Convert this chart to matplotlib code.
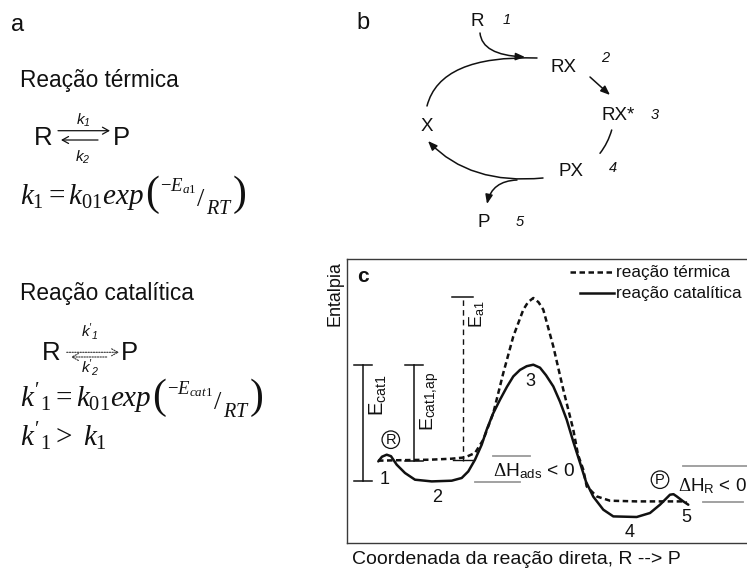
import matplotlib
matplotlib.use("Agg")
import matplotlib.pyplot as plt
from matplotlib.patches import FancyArrowPatch
from matplotlib.path import Path

plt.rcParams['font.family'] = ['Liberation Sans', 'DejaVu Sans']
plt.rcParams['mathtext.fontset'] = 'custom'
plt.rcParams['mathtext.rm'] = 'Liberation Serif'
plt.rcParams['mathtext.it'] = 'Liberation Serif:italic'
plt.rcParams['mathtext.bf'] = 'Liberation Serif:bold'
plt.rcParams['mathtext.sf'] = 'Liberation Sans'
plt.rcParams['mathtext.cal'] = 'Liberation Sans:italic'

# ---- enthalpy profiles (arbitrary units) along the reaction coordinate ----
coord_cat = [31.3, 35, 39.7, 44, 49.7, 58, 68, 84.7, 104.7, 114.7, 121.3, 128,
             134.7, 139.7, 146, 153, 160, 166.3, 173, 179.7, 186.3, 193, 199,
             206.3, 213, 219.7, 226.3, 233, 239, 246.3, 256.3, 266.3, 289.7,
             303, 313, 323, 326.5, 329.7, 336.3, 341.3]
enth_cat = [81.3, 86, 88, 86.5, 78, 69.7, 63, 61.3, 62, 64.7, 71.3, 83,
            98, 113, 129, 143, 156, 166.3, 172.8, 176.5, 178, 175, 167.5,
            156.3, 141, 123, 101, 80, 61, 46, 33, 26.3, 25.7,
            29.7, 38, 48, 48.5, 46.3, 41.3, 38]

coord_therm = [31, 53, 83, 104.7, 118, 128, 136.3, 146.3, 156.3, 166.3, 176.3,
               181, 186.3, 191.5, 196.3, 206.3, 216.3, 226.3, 231, 236.3,
               239.7, 249.7, 263, 289.7, 336.3, 339.7]
enth_therm = [82, 82.5, 83, 84, 85.3, 89.7, 103, 129.7, 169.7, 206.3, 233,
              240.5, 244.7, 240.5, 233, 196.3, 153, 113, 88, 73,
              56.3, 46.3, 42, 41.3, 41.3, 40]

series_names = ['reação térmica', 'reação catalítica']
state_labels = ['1', '2', '3', '4', '5']

# characteristic levels taken from the profiles
R_level = enth_therm[0]
TS_thermal = max(enth_therm)
TS_cat = max(enth_cat)
ads_min = min(enth_cat[:12])

INK = '#111111'
GREY = '#9a9a9a'

fig = plt.figure(figsize=(7.47, 5.68), dpi=100)
renderer = fig.canvas.get_renderer()

# page layer in pixel units (y downward) for panels a and b
ov = fig.add_axes([0, 0, 1, 1])
ov.set_xlim(0, 747)
ov.set_ylim(568, 0)
ov.axis('off')


def chain(x, base, pieces):
    """Write text pieces one after another; each piece is (text, size, dy, family, gap)."""
    for s, size, dy, family, gap in pieces:
        t = ov.text(x + gap, base + dy, s, fontsize=size, ha='left', va='baseline',
                    family=family, color=INK)
        x = t.get_window_extent(renderer).x1


def rate_law(x, base, lhs, energy):
    serif = 'Liberation Serif'
    chain(x, base, [
        (lhs, 21, 0, serif, 0),
        ('(', 30, 1, serif, 1),
        (r'$-E_{%s}$' % energy, 13.5, -13, serif, 1),
        (r'$/$', 19, 2, serif, 0),
        (r'$RT$', 14.5, 10, serif, 0),
        (')', 30, 1, serif, 0),
    ])


# ------------------------------- panel a -------------------------------
ov.text(17.5, 25, 'a', fontsize=17, ha='center', va='center', color=INK)

ov.text(20, 87.3, 'Reação térmica', fontsize=16.3, ha='left', va='baseline', color=INK)
ov.text(43.5, 145, 'R', fontsize=18.5, ha='center', va='baseline', color=INK)
ov.text(121, 145, 'P', fontsize=18.5, ha='center', va='baseline', color=INK)
ov.add_patch(FancyArrowPatch((58, 130.7), (110, 130.7), arrowstyle='->,head_length=0.45,head_width=0.25',
                             mutation_scale=10, lw=0.9, color=INK, shrinkA=0, shrinkB=0))
ov.add_patch(FancyArrowPatch((98, 140), (61, 140), arrowstyle='->,head_length=0.45,head_width=0.25',
                             mutation_scale=10, lw=0.9, color=INK, shrinkA=0, shrinkB=0))
ov.text(83, 120, r'$\mathcal{k_1}$', fontsize=11, ha='center', va='center', color=INK)
ov.text(83, 157, r'$\mathcal{k_2}$', fontsize=11, ha='center', va='center', color=INK)
rate_law(20, 204, r'$k_1 = k_{01}exp$', 'a1')

ov.text(20, 300, 'Reação catalítica', fontsize=16.3, ha='left', va='baseline', color=INK)
ov.text(51, 360, 'R', fontsize=18.5, ha='center', va='baseline', color=INK)
ov.text(129, 360, 'P', fontsize=18.5, ha='center', va='baseline', color=INK)
ov.add_patch(FancyArrowPatch((66.7, 352.3), (119, 352.3), arrowstyle='->,head_length=0.45,head_width=0.25',
                             mutation_scale=10, lw=0.8, color='#333333', ls=(0, (1.2, 1.2)),
                             shrinkA=0, shrinkB=0))
ov.add_patch(FancyArrowPatch((106.7, 357), (71, 357), arrowstyle='->,head_length=0.45,head_width=0.25',
                             mutation_scale=10, lw=0.8, color='#333333', ls=(0, (1.2, 1.2)),
                             shrinkA=0, shrinkB=0))
ov.text(90, 331, r"$\mathcal{{k'}_1}$", fontsize=11, ha='center', va='center', color=INK)
ov.text(90, 368, r"$\mathcal{{k'}_2}$", fontsize=11, ha='center', va='center', color=INK)
rate_law(20, 407, r"${k'}_1 = k_{01}exp$", 'cat1')
ov.text(20, 446, r"${k'}_1 >\ k_1$", fontsize=21, ha='left', va='baseline', color=INK)

# ------------------------------- panel b -------------------------------
ov.text(363, 23, 'b', fontsize=17, ha='center', va='center', color=INK)

species = [('R', 477.5, 21.7), ('RX', 563, 67), ('PX', 571, 171), ('X', 426.7, 126.7), ('P', 484, 222.5)]
for name, x, y in species:
    ov.text(x, y, name, fontsize=13.5, ha='center', va='center', color=INK)
ov.text(601.7, 115, 'RX*', fontsize=13.5, ha='left', va='center', color=INK)

steps = [('1', 506.7, 20), ('2', 605, 58.3), ('3', 655, 115), ('4', 613.3, 168.3), ('5', 520, 221.7)]
for lab, x, y in steps:
    ov.text(x, y, lab, fontsize=10.5, style='italic', ha='center', va='center', color=INK)


def curve(p0, c, p1, head=True):
    path = Path([p0, c, p1], [Path.MOVETO, Path.CURVE3, Path.CURVE3])
    style = '-|>,head_length=5.5,head_width=2.2' if head else '-'
    ov.add_patch(FancyArrowPatch(path=path, arrowstyle=style, mutation_scale=1,
                                 lw=1.1, color=INK, shrinkA=0, shrinkB=0))


curve((427, 106), (440, 55), (537, 58), head=False)      # X -> RX
curve((480, 33), (482, 55), (525, 57))                    # R adsorbs
curve((543, 178), (470, 185), (428, 141))                 # PX -> X
curve((517, 180), (492, 181), (487, 204))                 # P released
curve((611.7, 130), (608, 143), (600, 153.3), head=False)  # RX* -> PX
ov.add_patch(FancyArrowPatch((590, 77), (610, 95), arrowstyle='-|>,head_length=5.5,head_width=2.2',
                             mutation_scale=1, lw=1.1, color=INK, shrinkA=0, shrinkB=0))

# ------------------------------- panel c -------------------------------
axc = fig.add_axes([347 / 747, (568 - 542.7) / 568, 420 / 747, 283.4 / 568])
axc.set_xlim(0, 420)
axc.set_ylim(0, 283.4)
axc.set_xticks([])
axc.set_yticks([])
for s in ('left', 'top', 'bottom'):
    axc.spines[s].set_color('#3a3a3a')
    axc.spines[s].set_linewidth(1.0)
axc.spines['right'].set_visible(False)
axc.patch.set_alpha(0)

axc.plot(coord_therm, enth_therm, color=INK, lw=1.8, ls=(0, (2.2, 1.4)), solid_joinstyle='round')
axc.plot(coord_cat, enth_cat, color=INK, lw=1.8, solid_joinstyle='round', solid_capstyle='round')

axc.text(16, 266, 'c', fontsize=15, fontweight='bold', ha='center', va='center', color=INK)

# legend
axc.plot([223, 267], [270.3, 270.3], color=INK, lw=1.8, ls=(0, (2.2, 1.4)))
axc.plot([233, 267], [249.7, 249.7], color=INK, lw=1.8)
axc.text(269, 270.3, series_names[0], fontsize=12.3, ha='left', va='center', color=INK)
axc.text(269, 249.7, series_names[1], fontsize=12.3, ha='left', va='center', color=INK)

# state numbers
for lab, x, y in zip(state_labels, [38, 89.7, 183, 283, 339.7], [63, 45, 161.3, 10, 24.7]):
    axc.text(x, y, lab, fontsize=13, ha='center', va='center', color=INK)

circ = dict(boxstyle='circle,pad=0.12', fc='none', ec=INK, lw=0.9)
axc.text(43.8, 103, 'R', fontsize=10.5, ha='center', va='center', color=INK, bbox=circ)
axc.text(313, 63, 'P', fontsize=10.5, ha='center', va='center', color=INK, bbox=circ)


# energy brackets
def bracket(x, lo, hi, half=9):
    axc.plot([x, x], [lo, hi], color=INK, lw=1.1)
    axc.plot([x - half, x + half], [lo, lo], color=INK, lw=1.1)
    axc.plot([x - half, x + half], [hi, hi], color=INK, lw=1.1)


bracket(16.3, ads_min, TS_cat)
bracket(67.3, R_level, TS_cat)
axc.text(31, 148, r'E$_{\mathsf{cat1}}$', fontsize=14.5, rotation=90, ha='center', va='center', color=INK)
axc.text(83, 141, r'E$_{\mathsf{cat1{,}ap}}$', fontsize=14, rotation=90, ha='center', va='center', color=INK)

axc.plot([116.3, 116.3], [R_level, TS_thermal], color=INK, lw=1.0, ls=(0, (4, 3)))
axc.plot([104.7, 126.3], [TS_thermal + 1.5, TS_thermal + 1.5], color=INK, lw=1.1)
axc.plot([106, 126], [R_level + 0.7, R_level + 0.7], color=INK, lw=1.0)
axc.text(129.7, 228, r'E$_{\mathsf{a1}}$', fontsize=13, rotation=90, ha='center', va='center', color=INK)

# enthalpy differences
axc.plot([146.3, 183], [86.3, 86.3], color=GREY, lw=1.3)
axc.plot([128, 173], [60.7, 60.7], color=GREY, lw=1.3)
axc.text(146.3, 71.3, r'$\Delta$H$_{\mathsf{ads}}$ < 0', fontsize=13.8, ha='left', va='center', color=INK)
axc.plot([336, 400], [77, 77], color=GREY, lw=1.3)
axc.plot([356, 396], [40.7, 40.7], color=GREY, lw=1.3)
axc.text(331, 56.3, r'$\Delta$H$_{\mathsf{R}}$ < 0', fontsize=13.5, ha='left', va='center', color=INK)

ov.text(516, 559, 'Coordenada da reação direta, R --> P', fontsize=14, ha='center', va='center', color=INK)
ov.text(335, 294, 'Entalpia', fontsize=12.9, rotation=90, ha='center', va='center', color=INK)

fig.savefig('out.png', dpi=100)
